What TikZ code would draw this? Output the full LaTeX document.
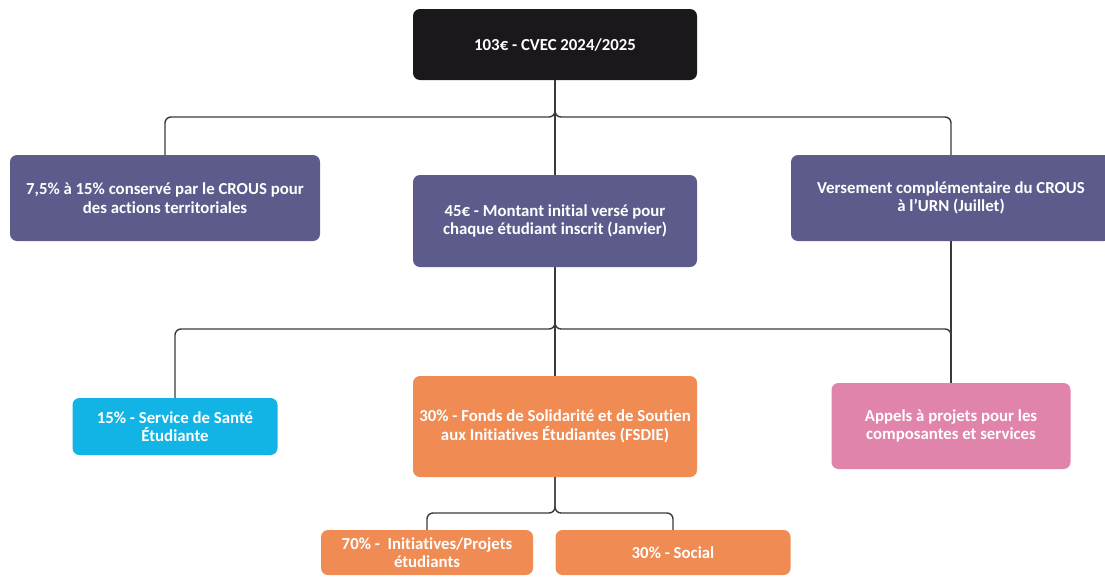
\documentclass[tikz,border=0pt]{standalone}
\usepackage{fontspec}
\setmainfont{Carlito}[Ligatures=NoCommon]

\definecolor{cvecblack}{HTML}{1B181C}
\definecolor{crouspurple}{HTML}{5C5B8C}
\definecolor{santecyan}{HTML}{12B4E6}
\definecolor{fsdieorange}{HTML}{EF8B53}
\definecolor{appelpink}{HTML}{E084AC}
\definecolor{linkgray}{HTML}{3A3A3A}

\begin{document}
\begin{tikzpicture}[x=1pt,y=-1pt]

      \useasboundingbox (0,0) rectangle (1105,576);

      \begin{scope}[every node/.style={rectangle,rounded corners=7pt,text=white,align=center,inner sep=0pt,
          font=\bfseries\fontsize{16.8}{18.5}\selectfont}]
        \node[fill=cvecblack,minimum width=284pt,minimum height=71pt]   (cvec)    at (555,44.5)  {103€ - CVEC 2024/2025};
        \node[fill=crouspurple,minimum width=310pt,minimum height=86pt] (crous)   at (165,198)   {7,5\% à 15\% conservé par le CROUS pour\\des actions territoriales};
        \node[fill=crouspurple,minimum width=284pt,minimum height=92pt] (montant) at (555,221)   {45€ - Montant initial versé pour\\chaque étudiant inscrit (Janvier)};
        \node[fill=crouspurple,minimum width=320pt,minimum height=86pt] (versement) at (951,198) {Versement complémentaire du CROUS\\à l’URN (Juillet)};
        \node[fill=santecyan,minimum width=205pt,minimum height=57pt]   (sante)   at (175,426.5) {15\% - Service de Santé\\Étudiante};
        \node[fill=fsdieorange,minimum width=284pt,minimum height=101pt] (fsdie)  at (555,426.5) {30\% - Fonds de Solidarité et de Soutien\\aux Initiatives Étudiantes (FSDIE)};
        \node[fill=appelpink,minimum width=239pt,minimum height=86pt]   (appels)  at (951,426)   {Appels à projets pour les\\composantes et services};
        \node[fill=fsdieorange,minimum width=212pt,minimum height=45pt] (projets) at (427,552.5) {70\% -~ Initiatives/Projets\\étudiants};
        \node[fill=fsdieorange,minimum width=235pt,minimum height=45pt] (social)  at (673,552.5) {30\% - Social};
      \end{scope}

      \coordinate (j1) at (555,117);
      \coordinate (j2) at (555,329);
      \coordinate (j3) at (555,513);

      \begin{scope}[every path/.style={draw=linkgray,line width=1.4pt,rounded corners=6pt}]
        \path (cvec.south) -- (montant.north);
        \path (crous.north) |- (j1) -- (cvec.south);
        \path (versement.north) |- (j1) -- (cvec.south);

        \path (montant.south) -- (fsdie.north);
        \path (sante.north) |- (j2) -- (montant.south);
        \path (appels.north) |- (j2) -- (montant.south);
        \path (versement.south) -- (appels.north);

        \path (projets.north) |- (j3) -- (fsdie.south);
        \path (social.north) |- (j3) -- (fsdie.south);
      \end{scope}

    \end{tikzpicture}
\end{document}
